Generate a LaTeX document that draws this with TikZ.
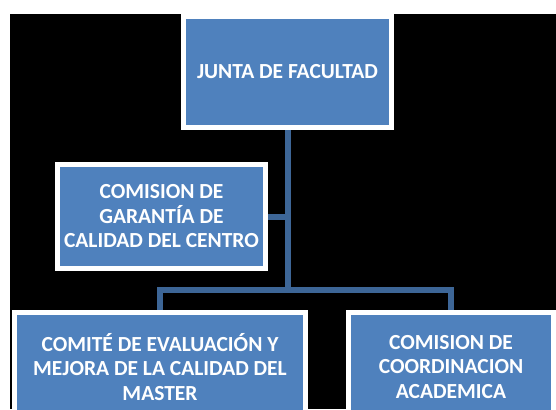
\documentclass[tikz,border=0pt]{standalone}
\usepackage{fontspec}
\setmainfont{Carlito}
\definecolor{boxblue}{HTML}{4F81BD}
\definecolor{linkblue}{HTML}{3D6697}
\tikzset{
  orgbox/.style={draw=white, line width=5pt, fill=boxblue, text=white,
    font=\bfseries\fontsize{21.5pt}{24.5pt}\selectfont, align=center, inner sep=0pt},
  link/.style={draw=linkblue, line width=6pt}
}
\begin{document}
\begin{tikzpicture}[x=1pt,y=1pt]
\useasboundingbox (0,0) rectangle (556,-409);
\clip (0,0) rectangle (556,-409);
\fill[black] (10,-14) rectangle (556,-409);
\node[orgbox, minimum width=208pt, minimum height=111pt] (top) at (287.5,-72) {JUNTA DE FACULTAD};
\node[orgbox, minimum width=208pt, minimum height=104pt] (mid) at (161.5,-216.5) {COMISION DE\\GARANTÍA DE\\CALIDAD DEL CENTRO};
\node[orgbox, minimum width=291pt, minimum height=109pt] (left) at (160,-367) {COMITÉ DE EVALUACIÓN Y\\MEJORA DE LA CALIDAD DEL\\MASTER};
\node[orgbox, minimum width=205pt, minimum height=109pt] (right) at (451,-367) {COMISION DE\\COORDINACION\\ACADEMICA};
\coordinate (j) at (287.5,-290);
\draw[link] (top.south) -- (j);
\draw[link] (mid.east) -- (mid.east -| top.south);
\draw[link] (j) -| (left.north);
\draw[link] (j) -| (right.north);
\end{tikzpicture}
\end{document}
